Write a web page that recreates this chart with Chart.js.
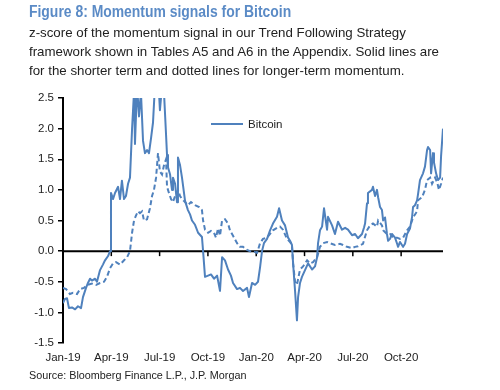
<!DOCTYPE html>
<html>
<head>
<meta charset="utf-8">
<script src="https://cdn.jsdelivr.net/npm/chart.js@4"></script>
<style>
  body { margin: 0; background: #fff; }
  #wrap { position: relative; width: 500px; height: 390px; overflow: hidden; font-family: "Liberation Sans", Arial, sans-serif; color: #222; }
  #wrap canvas { position: absolute; left: 0; top: 0; }
  .title { position: absolute; left: 29px; top: 3px; font-size: 16px; font-weight: bold; color: #5b8bc6; white-space: nowrap; transform: scaleX(0.87); transform-origin: left top; }
  .sub { position: absolute; left: 29px; top: 23px; font-size: 13.3px; line-height: 19px; white-space: nowrap; }
  .source { position: absolute; left: 29px; top: 369px; font-size: 10.8px; line-height: 13px; white-space: nowrap; }
  .legend { position: absolute; left: 211px; top: 116px; height: 16px; font-size: 11.5px; line-height: 16px; white-space: nowrap; }
  .legend span.swatch { display: inline-block; width: 32px; height: 2px; background: #4f81bd; vertical-align: middle; margin-right: 5px; position: relative; top: -1px; }
</style>
</head>
<body>
<div id="wrap">
  <canvas id="chart" width="500" height="390"></canvas>
  <div class="title">Figure 8: Momentum signals for Bitcoin</div>
  <div class="sub">z-score of the momentum signal in our Trend Following Strategy<br>framework shown in Tables A5 and A6 in the Appendix. Solid lines are<br>for the shorter term and dotted lines for longer-term momentum.</div>
  <div class="legend"><span class="swatch"></span>Bitcoin</div>
  <div class="source">Source: Bloomberg Finance L.P., J.P. Morgan</div>
</div>
<script>
// x = months since Jan 2019
const quarterMonths = [0, 3, 6, 9, 12, 15, 18, 21];
const quarterLabels = ['Jan-19', 'Apr-19', 'Jul-19', 'Oct-19', 'Jan-20', 'Apr-20', 'Jul-20', 'Oct-20'];
const yTicks = [-1.5, -1.0, -0.5, 0.0, 0.5, 1.0, 1.5, 2.0, 2.5];

// shorter-term signal (solid)
const solidMonths = [0.00,0.12,0.25,0.37,0.56,0.75,0.93,1.12,1.24,1.43,
  1.55,1.68,1.80,1.99,2.11,2.30,2.48,2.61,2.80,2.92,
  2.98,3.11,3.23,3.42,3.54,3.66,3.79,3.91,4.04,4.16,
  4.29,4.41,4.47,4.60,4.72,4.84,4.97,5.09,5.22,5.34,
  5.47,5.59,5.71,5.84,5.96,6.02,6.15,6.27,6.40,6.46,
  6.52,6.65,6.77,6.83,6.96,7.08,7.14,7.27,7.39,7.58,
  7.76,7.89,8.01,8.20,8.39,8.63,8.70,8.82,9.01,9.19,
  9.38,9.57,9.75,9.88,10.06,10.25,10.43,10.56,10.81,10.99,
  11.18,11.43,11.55,11.74,11.93,12.11,12.24,12.36,12.48,12.67,
  12.86,13.04,13.29,13.42,13.60,13.79,13.98,14.10,14.22,14.29,
  14.41,14.53,14.60,14.72,14.84,15.03,15.22,15.47,15.65,15.78,
  15.84,15.96,16.09,16.21,16.40,16.46,16.71,16.89,17.08,17.33,
  17.52,17.70,17.95,18.14,18.32,18.57,18.70,18.76,18.88,18.94,
  19.19,19.25,19.38,19.50,19.57,19.69,19.81,19.88,20.00,20.12,
  20.19,20.31,20.43,20.62,20.75,20.81,20.93,21.12,21.24,21.37,
  21.55,21.68,21.74,21.86,21.99,22.05,22.17,22.36,22.48,22.61,
  22.67,22.80,22.86,22.98,23.04,23.17,23.29,23.42,23.48,23.60];
const solidZ = [-0.85,-0.78,-0.77,-0.93,-0.92,-0.95,-0.90,-0.93,-0.75,-0.60,
  -0.52,-0.45,-0.48,-0.45,-0.50,-0.31,-0.22,-0.15,-0.08,0.00,
  0.95,0.85,0.95,1.05,0.85,1.15,0.85,0.90,1.10,1.20,
  2.00,2.60,1.75,2.70,2.20,2.60,1.80,1.60,1.65,1.60,
  1.85,2.10,2.70,2.80,2.60,2.30,2.70,2.60,1.90,1.57,
  1.37,1.25,1.00,1.20,1.10,0.80,1.53,1.40,1.20,0.82,
  0.67,0.60,0.50,0.43,0.30,0.23,0.00,-0.42,-0.40,-0.38,
  -0.45,-0.40,-0.65,-0.10,-0.15,-0.30,-0.40,-0.52,-0.62,-0.60,
  -0.65,-0.60,-0.75,-0.52,-0.55,-0.50,-0.26,0.00,0.13,0.20,
  0.34,0.45,0.56,0.70,0.50,0.42,0.22,0.17,0.10,-0.20,
  -0.64,-1.13,-0.75,-0.52,-0.42,-0.31,-0.20,-0.30,-0.25,-0.10,
  0.13,0.34,0.40,0.70,0.35,0.56,0.42,0.28,0.48,0.35,
  0.38,0.35,0.26,0.28,0.21,0.28,0.39,0.45,0.78,0.95,
  1.00,1.05,0.90,1.00,0.88,0.72,0.67,0.50,0.55,0.28,
  0.17,0.20,0.28,0.22,0.12,0.07,0.15,0.07,0.12,0.28,
  0.37,0.56,0.72,0.75,0.83,0.93,1.16,1.27,1.38,1.65,
  1.70,1.65,1.27,1.60,1.45,1.27,1.16,1.20,1.55,2.00];

// longer-term signal (dotted)
const dottedMonths = [0.00,0.19,0.43,0.62,0.87,1.06,1.30,1.55,1.80,2.05,
  2.30,2.55,2.73,2.92,3.11,3.29,3.54,3.79,3.98,4.16,
  4.29,4.41,4.53,4.66,4.78,4.91,5.03,5.22,5.40,5.53,
  5.65,5.78,5.90,6.02,6.15,6.27,6.40,6.46,6.58,6.71,
  6.83,6.96,7.14,7.27,7.39,7.58,7.76,7.95,8.20,8.45,
  8.63,8.70,8.82,9.01,9.19,9.38,9.50,9.63,9.75,9.88,
  10.06,10.25,10.37,10.56,10.81,10.99,11.18,11.43,11.61,11.80,
  12.05,12.24,12.42,12.67,12.86,13.04,13.29,13.48,13.66,13.91,
  14.10,14.22,14.29,14.41,14.53,14.72,14.91,15.16,15.34,15.53,
  15.78,15.96,16.15,16.40,16.58,16.89,17.20,17.39,17.64,17.95,
  18.14,18.32,18.63,18.88,19.07,19.25,19.50,19.57,19.81,19.88,
  20.12,20.31,20.50,20.75,20.93,21.12,21.37,21.55,21.74,21.99,
  22.05,22.30,22.48,22.61,22.80,22.92,23.11,23.24,23.35,23.48,
  23.60];
const dottedZ = [-0.60,-0.62,-0.70,-0.68,-0.70,-0.62,-0.60,-0.55,-0.53,-0.55,
  -0.52,-0.50,-0.42,-0.28,-0.20,-0.18,-0.22,-0.15,-0.10,0.00,
  0.30,0.50,0.58,0.65,0.62,0.65,0.50,0.52,0.70,0.90,
  1.00,1.20,1.60,1.30,1.25,1.40,1.50,1.05,0.95,0.85,
  0.80,0.90,1.00,0.90,0.85,0.80,0.75,0.80,0.75,0.72,
  0.67,0.50,0.35,0.30,0.33,0.30,0.22,0.37,0.25,0.50,
  0.52,0.45,0.34,0.25,0.13,0.07,0.07,0.02,0.00,0.00,
  -0.03,0.13,0.20,0.22,0.28,0.34,0.38,0.40,0.35,0.20,
  0.15,0.10,-0.20,-0.50,-0.55,-0.30,-0.25,-0.15,-0.20,-0.18,
  -0.10,0.07,0.13,0.15,0.13,0.10,0.12,0.10,0.07,0.05,
  0.07,0.08,0.12,0.34,0.42,0.45,0.40,0.50,0.42,0.34,
  0.28,0.28,0.22,0.22,0.20,0.22,0.34,0.40,0.55,0.65,
  0.83,0.88,1.00,1.16,1.20,1.10,1.20,1.12,1.00,1.10,
  1.20];

const lineColor = '#4f81bd';
const fontFamily = '"Liberation Sans", Arial, sans-serif';

// black zero line with small downward ticks at each quarter
const zeroAxis = {
  id: 'zeroAxis',
  beforeDatasetsDraw(chart) {
    const { ctx, chartArea, scales } = chart;
    const y0 = scales.y.getPixelForValue(0);
    ctx.save();
    ctx.strokeStyle = '#000';
    ctx.lineWidth = 2;
    ctx.beginPath();
    ctx.moveTo(chartArea.left, y0);
    ctx.lineTo(chartArea.right, y0);
    ctx.stroke();
    ctx.lineWidth = 1.5;
    quarterMonths.forEach(m => {
      if (m === 0) return;
      const x = scales.x.getPixelForValue(m);
      ctx.beginPath();
      ctx.moveTo(x, y0);
      ctx.lineTo(x, y0 + 5);
      ctx.stroke();
    });
    ctx.restore();
  }
};

new Chart(document.getElementById('chart'), {
  type: 'line',
  data: {
    datasets: [
      {
        label: 'Bitcoin',
        data: solidMonths.map((m, i) => ({ x: m, y: solidZ[i] })),
        borderColor: lineColor,
        borderWidth: 2,
        pointRadius: 0,
        tension: 0,
        borderJoinStyle: 'round',
        clip: 0
      },
      {
        label: 'Bitcoin (longer term)',
        data: dottedMonths.map((m, i) => ({ x: m, y: dottedZ[i] })),
        borderColor: lineColor,
        borderWidth: 2,
        borderDash: [5, 3],
        pointRadius: 0,
        tension: 0,
        clip: 0
      }
    ]
  },
  options: {
    responsive: false,
    animation: false,
    devicePixelRatio: 1,
    layout: { padding: { top: 98, right: 57, bottom: 17, left: 0 } },
    plugins: { legend: { display: false }, tooltip: { enabled: false } },
    scales: {
      x: {
        type: 'linear',
        min: 0,
        max: 23.6,
        afterBuildTicks: scale => { scale.ticks = quarterMonths.map(v => ({ value: v })); },
        afterFit: scale => { scale.height = 30; },
        grid: { display: false },
        border: { display: false },
        ticks: {
          autoSkip: false,
          maxRotation: 0,
          padding: 0,
          color: '#222',
          font: { family: fontFamily, size: 11.5 },
          callback: (v, i) => quarterLabels[i]
        }
      },
      y: {
        min: -1.5,
        max: 2.5,
        afterBuildTicks: scale => { scale.ticks = yTicks.map(v => ({ value: v })); },
        afterFit: scale => { scale.width = 63; },
        grid: { drawOnChartArea: false, drawTicks: true, tickLength: 5, color: '#000', lineWidth: 1.5 },
        border: { display: true, color: '#000', width: 2 },
        ticks: {
          padding: 4,
          color: '#222',
          font: { family: fontFamily, size: 11.5 },
          callback: v => v.toFixed(1)
        }
      }
    }
  },
  plugins: [zeroAxis]
});
</script>
</body>
</html>
